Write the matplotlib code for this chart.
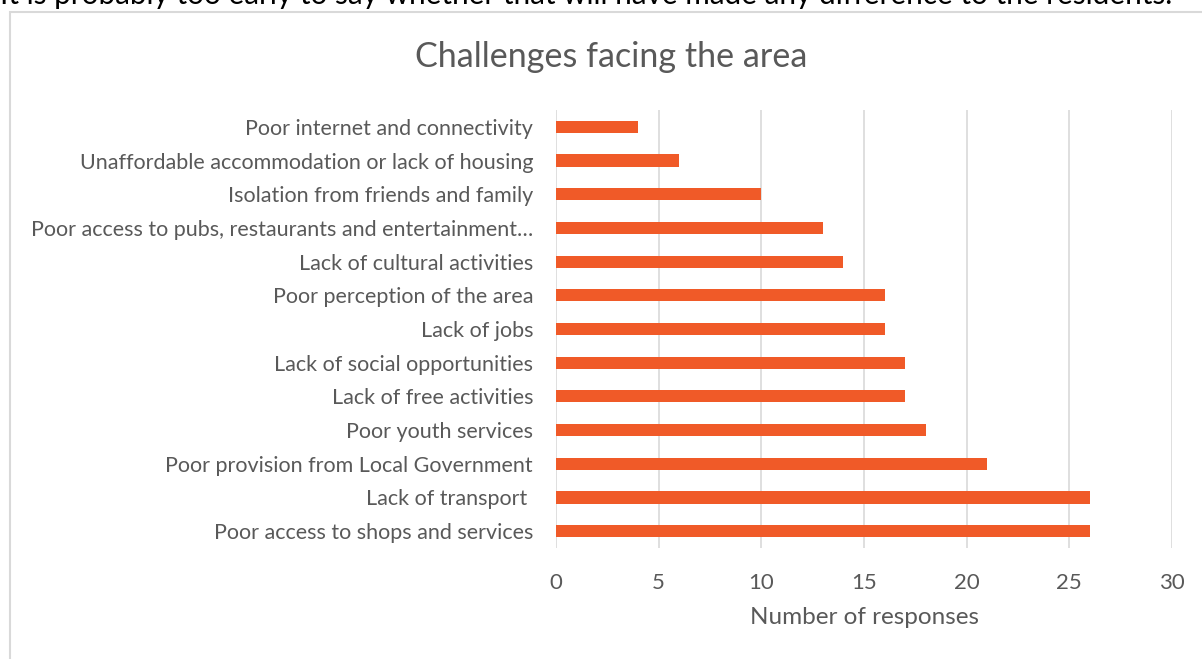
import matplotlib.pyplot as plt
from matplotlib.patches import Rectangle

categories = [
    "Poor internet and connectivity",
    "Unaffordable accommodation or lack of housing",
    "Isolation from friends and family",
    "Poor access to pubs, restaurants and entertainment\u2026",
    "Lack of cultural activities",
    "Poor perception of the area",
    "Lack of jobs",
    "Lack of social opportunities",
    "Lack of free activities",
    "Poor youth services",
    "Poor provision from Local Government",
    "Lack of transport ",
    "Poor access to shops and services",
]
responses = [4, 6, 10, 13, 14, 16, 16, 17, 17, 18, 21, 26, 26]
xticks = [0, 5, 10, 15, 20, 25, 30]

plt.rcParams["font.family"] = ["Lato", "DejaVu Sans"]
grey = "#595959"

fig = plt.figure(figsize=(12.02, 6.59), dpi=100)
W, H = 1202, 659

# chart frame, as in the document
fig.patches.append(Rectangle((10 / W, -0.1), 1.2, 1.1 - 12 / H, transform=fig.transFigure,
                             fill=False, edgecolor="#d9d9d9", lw=1.5))
# cut-off line of document text above the chart
top = fig.text(0.0, 1 - 4 / H,
               "It is probably too early to say whether that will have made any difference to the residents.",
               fontsize=18, color="black", va="baseline", ha="left")
r = fig.canvas.get_renderer()
top.set_fontsize(18 * 1172 / top.get_window_extent(r).width)

ax = fig.add_axes([556 / W, 1 - 548 / H, (1172 - 556) / W, (548 - 110) / H])
y = range(len(categories))
ax.barh(y, responses, height=0.36, color="#f05a28", zorder=3)
ax.set_ylim(len(categories) - 0.5, -0.5)
ax.set_xlim(0, 30)
ax.set_xticks(xticks)
ax.set_yticks(list(y))
ax.set_yticklabels(categories, fontsize=15.5, color=grey)
ax.tick_params(axis="x", labelsize=16, labelcolor=grey, length=0, pad=18)
ax.tick_params(axis="y", length=0, pad=16.5)
ax.grid(axis="x", color="#d9d9d9", lw=1.2, zorder=0)
for s in ax.spines.values():
    s.set_visible(False)
ax.set_xlabel("Number of responses", fontsize=17.5, color=grey, labelpad=10)

fig.text((415 + 808) / 2 / W, 1 - 57 / H, "Challenges facing the area", fontsize=24.6,
         color=grey, ha="center", va="center")

fig.savefig("out.png", dpi=100)
